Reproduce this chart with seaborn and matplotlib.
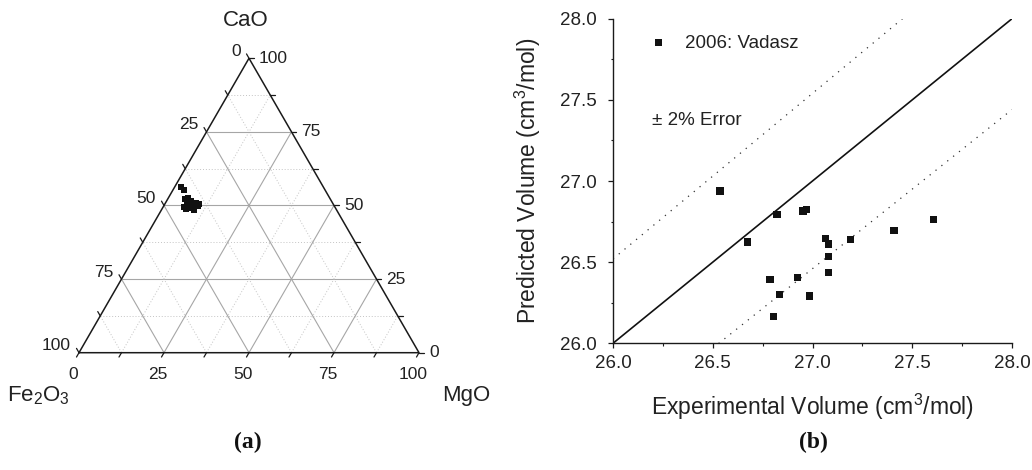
import numpy as np
import pandas as pd
import matplotlib
matplotlib.use("Agg")
import matplotlib.pyplot as plt
import seaborn as sns

# --- (a) slag compositions, wt% ---
cao = [56.2, 55.3, 52.3, 52.5, 51.6, 50.8, 50.4, 49.7, 48.6, 49.2, 49.7, 49.7, 50.3, 50.8, 49.5, 48.5, 51.2]
mgo = [1.8, 3.3, 5.0, 5.9, 7.3, 9.0, 10.2, 7.3, 7.2, 8.5, 9.3, 10.3, 7.5, 6.4, 6.2, 9.6, 6.8]
fe2o3 = [100 - c - m for c, m in zip(cao, mgo)]
ternary_ticks = [0, 25, 50, 75, 100]
ternary_levels = [12.5, 25, 37.5, 50, 62.5, 75, 87.5]

# --- (b) molar volumes, cm3/mol ---
exp_volume = [26.537, 26.673, 26.822, 26.952, 26.969, 27.064, 27.081, 27.080, 27.081,
              27.190, 27.409, 27.605, 26.787, 26.924, 26.833, 26.984, 26.803]
pred_volume = [26.938, 26.624, 26.795, 26.815, 26.823, 26.645, 26.612, 26.534, 26.437,
               26.641, 26.696, 26.762, 26.394, 26.407, 26.302, 26.291, 26.164]
volume_ticks = [26.0, 26.5, 27.0, 27.5, 28.0]
error_pct = 2.0

sns.set_style("ticks")
plt.rcParams["font.family"] = ["Liberation Sans", "DejaVu Sans"]
plt.rcParams["mathtext.fontset"] = "custom"
plt.rcParams["mathtext.rm"] = "Liberation Sans"
plt.rcParams["mathtext.it"] = "Liberation Sans:italic"
TXT = "#222222"

fig = plt.figure(figsize=(10.32, 4.70), dpi=100)

# ---------------- ternary diagram ----------------
H = np.sqrt(3) / 2


def to_xy(c, m):
    """CaO / MgO percentages -> cartesian position in the unit triangle."""
    c = np.asarray(c, dtype=float) / 100.0
    m = np.asarray(m, dtype=float) / 100.0
    return m + c / 2.0, c * H


px = 340.0  # pixels per triangle side
ax_t = fig.add_axes([0, 0, 480 / 1032, 1])
ax_t.set_xlim(-79 / px, (480 - 79) / px)
ax_t.set_ylim((352.7 - 470) / px, 352.7 / px)
ax_t.axis("off")

major_kw = dict(color="#a6a6a6", lw=0.8, zorder=1)
minor_kw = dict(color="#c4c4c4", lw=0.7, ls=(0, (1, 2)), zorder=1)
for v in ternary_levels:
    kw = major_kw if v in (25, 50, 75) else minor_kw
    # constant CaO
    x, y = to_xy([v, v], [0, 100 - v])
    ax_t.plot(x, y, **kw)
    # constant MgO
    x, y = to_xy([0, 100 - v], [v, v])
    ax_t.plot(x, y, **kw)
    # constant Fe2O3
    x, y = to_xy([0, 100 - v], [100 - v, 0])
    ax_t.plot(x, y, **kw)

# frame
x, y = to_xy([0, 0, 100, 0], [0, 100, 0, 0])
ax_t.plot(x, y, color="#1a1a1a", lw=1.1, zorder=3, solid_joinstyle="miter")

tl = 5 / px
tick_kw = dict(color="#1a1a1a", lw=0.9, zorder=3)
for v in [0] + ternary_levels + [100]:
    # CaO on the right edge
    x0, y0 = to_xy(v, 100 - v)
    ax_t.plot([x0, x0 + tl], [y0, y0], **tick_kw)
    # Fe2O3 on the left edge
    x0, y0 = to_xy(100 - v, 0)
    ax_t.plot([x0, x0 - tl * 0.5], [y0, y0 + tl * H], **tick_kw)
    # MgO on the bottom edge
    x0, y0 = to_xy(0, v)
    ax_t.plot([x0, x0 - tl * 0.5], [y0, y0 - tl * H], **tick_kw)

fs_t = 12.5
for v in ternary_ticks:
    x0, y0 = to_xy(v, 100 - v)
    ax_t.text(x0 + 10 / px, y0, f"{v}", ha="left", va="center", fontsize=fs_t, color=TXT)
    x0, y0 = to_xy(100 - v, 0)
    ax_t.text(x0 - 8 / px, y0 + 7 / px, f"{v}", ha="right", va="center", fontsize=fs_t, color=TXT)
    x0, y0 = to_xy(0, v)
    ax_t.text(x0 - 6 / px, y0 - 22 / px, f"{v}", ha="center", va="center", fontsize=fs_t, color=TXT)

tx, ty = to_xy(cao, mgo)
sns.scatterplot(x=tx, y=ty, ax=ax_t, marker="s", s=17, color="#111111",
                edgecolor="none", linewidth=0, zorder=4, legend=False)

fs_c = 16
ax_t.text((245.7 - 79) / px, (352.7 - 20) / px, "CaO", ha="center", va="center", fontsize=fs_c, color=TXT)
ax_t.text((38 - 79) / px, (352.7 - 396) / px, r"Fe$_2$O$_3$", ha="center", va="center", fontsize=fs_c, color=TXT)
ax_t.text((466 - 79) / px, (352.7 - 396) / px, "MgO", ha="center", va="center", fontsize=fs_c, color=TXT)

# ---------------- volume parity plot ----------------
ax = fig.add_axes([613 / 1032, 1 - 343.3 / 470, 399 / 1032, 324.6 / 470])
line_x = np.array([volume_ticks[0], volume_ticks[-1]])
ax.plot(line_x, line_x, color="#111111", lw=1.2, zorder=2)
ax.plot(line_x, line_x * (1 + error_pct / 100), color="#333333", lw=0.9, ls=(0, (1, 5)), zorder=2)
ax.plot(line_x, line_x * (1 - error_pct / 100), color="#333333", lw=0.9, ls=(0, (1, 5)), zorder=2)

df = pd.DataFrame({"exp": exp_volume, "pred": pred_volume})
sns.scatterplot(data=df, x="exp", y="pred", ax=ax, marker="s", s=28, color="#111111",
                edgecolor="none", linewidth=0, zorder=3, label="2006: Vadasz")

ax.set_xlim(volume_ticks[0], volume_ticks[-1])
ax.set_ylim(volume_ticks[0], volume_ticks[-1])
ax.set_xticks(volume_ticks)
ax.set_yticks(volume_ticks)
ax.set_xticklabels([f"{v:.1f}" for v in volume_ticks])
ax.set_yticklabels([f"{v:.1f}" for v in volume_ticks])
ax.xaxis.set_minor_locator(matplotlib.ticker.MultipleLocator(0.25))
ax.yaxis.set_minor_locator(matplotlib.ticker.MultipleLocator(0.25))
ax.tick_params(which="major", length=3.6, width=0.9, color="#1a1a1a", labelsize=13.5, labelcolor=TXT)
ax.tick_params(which="minor", length=1.8, width=0.8, color="#1a1a1a")
ax.tick_params(axis="y", which="major", pad=8)
ax.tick_params(axis="x", which="major", pad=5)
sns.despine(ax=ax)
for s in ("left", "bottom"):
    ax.spines[s].set_linewidth(1.0)
    ax.spines[s].set_color("#1a1a1a")
ax.spines["left"].set_bounds(volume_ticks[0], volume_ticks[-1])

ax.set_xlabel(r"Experimental Volume (cm$^3$/mol)", fontsize=16.5, color=TXT, labelpad=14)
ax.set_ylabel(r"Predicted Volume (cm$^3$/mol)", fontsize=16.5, color=TXT, labelpad=12)

ax.legend(loc="center left", bbox_to_anchor=(0.09, 0.925), frameon=False, handlelength=1.0,
          handletextpad=0.9, borderpad=0, borderaxespad=0, fontsize=13.5, labelcolor=TXT)
ax.text(0.098, 0.685, "± 2% Error", transform=ax.transAxes, ha="left", va="center",
        fontsize=13.5, color=TXT)

# panel captions
fig.text(248 / 1032, 1 - 442 / 470, "(a)", ha="center", va="center", fontsize=17,
         fontweight="bold", family="Liberation Serif", color="#111111")
fig.text(813 / 1032, 1 - 442 / 470, "(b)", ha="center", va="center", fontsize=17,
         fontweight="bold", family="Liberation Serif", color="#111111")

fig.savefig("out.png", dpi=100)
